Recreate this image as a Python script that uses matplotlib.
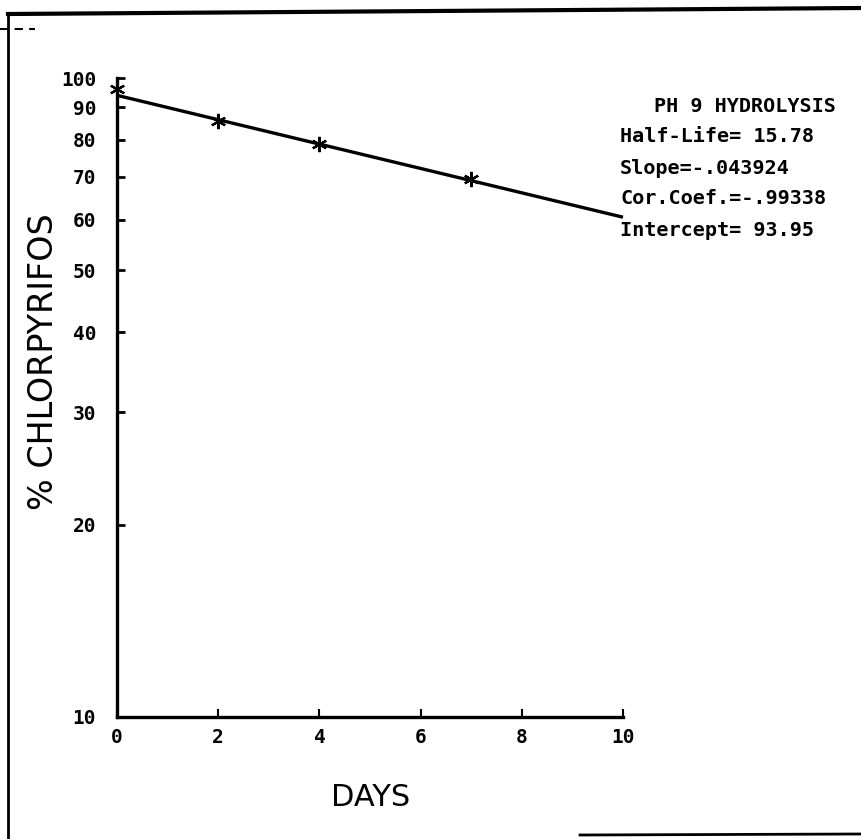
import numpy as np
import matplotlib
matplotlib.use("Agg")
import matplotlib.pyplot as plt
from matplotlib.lines import Line2D

# measured points (days, % chlorpyrifos)
days = [0, 2, 4, 7]
pct = [96.0, 85.5, 78.8, 69.6]

# regression reported on the chart
half_life = "15.78"
slope = -0.043924
cor_coef = "-.99338"
intercept = 93.95
fit_x = [0, 10]

x_ticks = [0, 2, 4, 6, 8, 10]
y_ticks = [10, 20, 30, 40, 50, 60, 70, 80, 90, 100]

W, H = 862, 839
fig = plt.figure(figsize=(W / 100, H / 100), dpi=100)

def fx(px):
    return px / W

def fy(py):
    return 1 - py / H

ax = fig.add_axes([fx(117), fy(717), fx(623) - fx(117), fy(78) - fy(717)])
ax.set_yscale("log")
ax.set_xlim(0, 10)
ax.set_ylim(10, 100)

fit_y = [intercept * np.exp(slope * x) for x in fit_x]
ax.plot(fit_x, fit_y, color="black", lw=2.4, solid_capstyle="butt", clip_on=False)
ax.plot(days, pct, linestyle="none", marker=(6, 2, 0), ms=11, mew=1.6,
        color="black", clip_on=False)

for s in ["top", "right"]:
    ax.spines[s].set_visible(False)
for s in ["left", "bottom"]:
    ax.spines[s].set_linewidth(2.4)

mono = "DejaVu Sans Mono"
ax.set_xticks(x_ticks)
ax.set_xticklabels([str(t) for t in x_ticks], family=mono, fontsize=14, fontweight="bold")
ax.set_yticks(y_ticks)
ax.set_yticklabels([str(t) for t in y_ticks], family=mono, fontsize=14, fontweight="bold")
ax.yaxis.set_minor_locator(matplotlib.ticker.NullLocator())
ax.tick_params(axis="y", direction="in", length=6, width=2, pad=15)
ax.tick_params(axis="x", direction="in", length=6, width=1.5, pad=8)

fig.text(fx(371), fy(797), "DAYS", family="DejaVu Sans", fontsize=22,
         ha="center", va="center")
fig.text(fx(44), fy(362), "% CHLORPYRIFOS", family="DejaVu Sans", fontsize=24,
         rotation=90, ha="center", va="center")

info = [
    "Half-Life= " + half_life,
    "Slope=" + ("%.6f" % slope).replace("0.", "."),
    "Cor.Coef.=" + cor_coef,
    "Intercept= " + "%.2f" % intercept,
]
fig.text(fx(745), fy(106), "PH 9 HYDROLYSIS", family=mono, fontsize=14.5,
         fontweight="bold", ha="center", va="center")
for i, line in enumerate(info):
    fig.text(fx(620), fy(137 + 31 * i), line, family=mono, fontsize=14.5,
             fontweight="bold", ha="left", va="center")

# scanned page frame
fig.add_artist(Line2D([fx(8), fx(8)], [fy(14), fy(839)], color="black", lw=2))
fig.add_artist(Line2D([fx(8), fx(862)], [fy(14), fy(8)], color="black", lw=3))
fig.add_artist(Line2D([fx(0), fx(35)], [fy(29), fy(29)], color="black", lw=1.5,
                      linestyle=(0, (4, 3))))
fig.add_artist(Line2D([fx(580), fx(862)], [fy(835), fy(834)], color="black", lw=2))

fig.savefig("out.png", dpi=100)
